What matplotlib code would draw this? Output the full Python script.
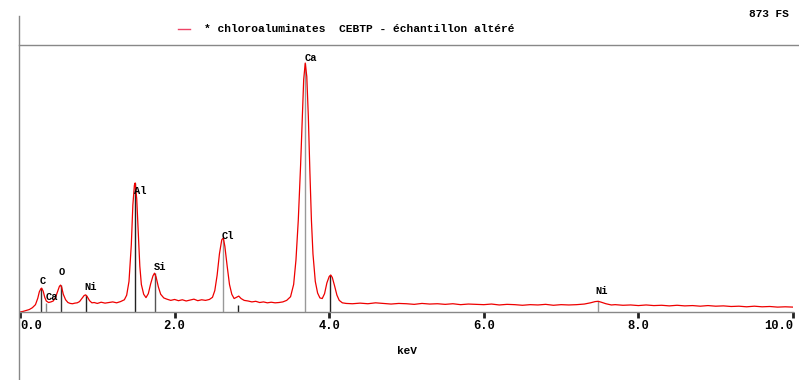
import matplotlib
matplotlib.use('Agg')
import matplotlib.pyplot as plt
from matplotlib.lines import Line2D

# spectre EDS (keV, coups)
energie = [0.00, 0.04, 0.08, 0.12, 0.16, 0.20, 0.23, 0.25, 0.27, 0.28, 0.30, 0.32, 0.34, 0.37,
           0.40, 0.43, 0.46, 0.49, 0.51, 0.525, 0.54, 0.56, 0.59, 0.62, 0.65, 0.68, 0.71, 0.74,
           0.77, 0.80, 0.83, 0.85, 0.87, 0.90, 0.93, 0.96, 1.00, 1.05, 1.10, 1.15, 1.20, 1.25,
           1.30, 1.35, 1.38,
           1.41, 1.44, 1.46, 1.48, 1.49, 1.51, 1.53, 1.55, 1.57, 1.60, 1.63, 1.66, 1.69, 1.72,
           1.74, 1.76, 1.79, 1.82, 1.86, 1.90, 1.95, 2.00, 2.05, 2.10, 2.15, 2.20, 2.25, 2.30,
           2.35, 2.40, 2.45, 2.49, 2.52, 2.55, 2.58, 2.61, 2.63, 2.65, 2.68, 2.71, 2.74, 2.77,
           2.80, 2.83, 2.86, 2.90, 2.95, 3.00, 3.05, 3.10, 3.15, 3.20, 3.25, 3.30, 3.35, 3.40,
           3.45, 3.50, 3.54, 3.57, 3.60, 3.63, 3.65, 3.67, 3.69, 3.71, 3.73, 3.75, 3.77, 3.79,
           3.82, 3.85, 3.88, 3.91, 3.94, 3.97, 4.00, 4.02, 4.04, 4.07, 4.10, 4.13, 4.17, 4.22,
           4.3, 4.4, 4.5, 4.6, 4.7, 4.8, 4.9, 5.0, 5.1, 5.2, 5.3, 5.4, 5.5, 5.6, 5.7, 5.8, 5.9,
           6.0, 6.1, 6.2, 6.3, 6.4, 6.5, 6.6, 6.7, 6.8, 6.9, 7.0, 7.1, 7.2, 7.3, 7.38, 7.44,
           7.48, 7.52, 7.58, 7.65, 7.7, 7.8, 7.9, 8.0, 8.1, 8.2, 8.3, 8.4, 8.5, 8.6, 8.7, 8.8,
           8.9, 9.0, 9.1, 9.2, 9.3, 9.4, 9.5, 9.6, 9.7, 9.8, 9.9, 10.0]
coups = [0, 2, 5, 8, 14, 24, 45, 66, 76, 78, 68, 48, 36, 31,
         33, 36, 48, 70, 84, 88, 80, 58, 40, 31, 28, 27, 29, 30,
         34, 44, 54, 56, 50, 37, 30, 31, 28, 32, 29, 31, 33, 30,
         34, 40, 55,
         100, 220, 350, 415, 422, 370, 260, 150, 90, 58, 47, 60, 92, 118,
         127, 115, 82, 58, 46, 42, 38, 41, 37, 40, 36, 39, 42, 37,
         40, 38, 41, 48, 70, 120, 190, 236, 242, 215, 150, 90, 58, 44,
         48, 52, 44, 38, 36, 33, 35, 31, 33, 30, 32, 30, 31, 33,
         38, 50, 90, 170, 300, 480, 620, 760, 814, 770, 640, 460, 300, 190,
         100, 62, 46, 44, 60, 95, 116, 121, 113, 85, 55, 38, 30, 28,
         27, 29, 27, 30, 28, 26, 28, 27, 25, 28, 26, 27, 25, 27, 24, 26, 25,
         24, 26, 23, 25, 24, 22, 24, 23, 25, 22, 24, 23, 24, 26, 30, 34,
         35, 32, 27, 23, 24, 22, 23, 21, 23, 21, 22, 20, 22, 20, 21, 19,
         21, 19, 20, 18, 19, 17, 19, 17, 18, 16, 17, 16]

# raies identifiees
raies_nom = ['C', 'Ca', 'O', 'Ni', 'Al', 'Si', 'Cl', 'Ca', 'Ni']
raies_kev = [0.277, 0.341, 0.525, 0.851, 1.487, 1.740, 2.622, 3.691, 7.471]
raies_haut = [78, 30, 88, 56, 422, 127, 242, 814, 35]
raies_x_txt = [0.30, 0.41, 0.54, 0.91, 1.55, 1.81, 2.69, 3.76, 7.52]
raies_y_txt = [101, 49, 131, 82, 395, 147, 248, 830, 69]
raies_couleur = ['#333333', '#888888', '#333333', '#222222', '#222222', '#555555',
                 '#999999', '#999999', '#999999']
# petites marques sans etiquette (Cl Kb, Ca Kb)
marques_kev = [2.815, 4.013]
marques_haut = [22, 121]

graduations = [0, 2, 4, 6, 8, 10]
etiquettes = ['0.0', '2.0', '4.0', '6.0', '8.0', '10.0']

police = 'Liberation Mono'
W, H = 799, 380
fig = plt.figure(figsize=(W / 100, H / 100), dpi=100)
ax = fig.add_axes([20 / W, 68 / H, 773 / W, 267 / H])

# marqueurs des raies
for e, h, c in zip(raies_kev, raies_haut, raies_couleur):
    ax.vlines(e, 0, h, color=c, lw=1.0, zorder=1)
for e, h in zip(marques_kev, marques_haut):
    ax.vlines(e, 0, h, color='#222222', lw=1.0, zorder=1)

ax.plot(energie, coups, color='#ee0000', lw=0.9, zorder=2)

for nom, x, y in zip(raies_nom, raies_x_txt, raies_y_txt):
    ax.text(x, y, nom, ha='center', va='center', fontsize=7.5, family=police,
            fontweight='bold', color='black', zorder=3)

ax.set_xlim(0, 10)
ax.set_ylim(0, 873)
ax.set_yticks([])
ax.set_xticks(graduations)
ax.set_xticklabels(etiquettes, family=police, fontweight='bold', fontsize=8.7)
lbls = ax.get_xticklabels()
lbls[0].set_ha('left')
lbls[-1].set_ha('right')
ax.tick_params(axis='x', direction='out', length=4, width=2, color='#222222', pad=2)
for s in ['top', 'left', 'right']:
    ax.spines[s].set_visible(False)
ax.spines['bottom'].set_color('#888888')
ax.spines['bottom'].set_linewidth(1.0)
ax.set_xlabel('keV', family=police, fontweight='bold', fontsize=8, labelpad=10)
ax.patch.set_alpha(0)

# cadre de l'appareil
fig.add_artist(Line2D([19 / W, 19 / W], [0, (H - 16) / H], color='#888888', lw=1.0))
fig.add_artist(Line2D([19 / W, 1], [(H - 45) / H, (H - 45) / H], color='#888888', lw=1.0))
fig.add_artist(Line2D([178 / W, 190 / W], [(H - 29) / H, (H - 29) / H], color='#ee4466', lw=1.0))
fig.text(204 / W, (H - 29) / H, '* chloroaluminates  CEBTP - \u00e9chantillon alt\u00e9r\u00e9',
         ha='left', va='center', fontsize=8.1, family=police, fontweight='bold')
fig.text(789 / W, (H - 14) / H, '873 FS', ha='right', va='center', fontsize=8,
         family=police, fontweight='bold')

fig.savefig('out.png', dpi=100)
